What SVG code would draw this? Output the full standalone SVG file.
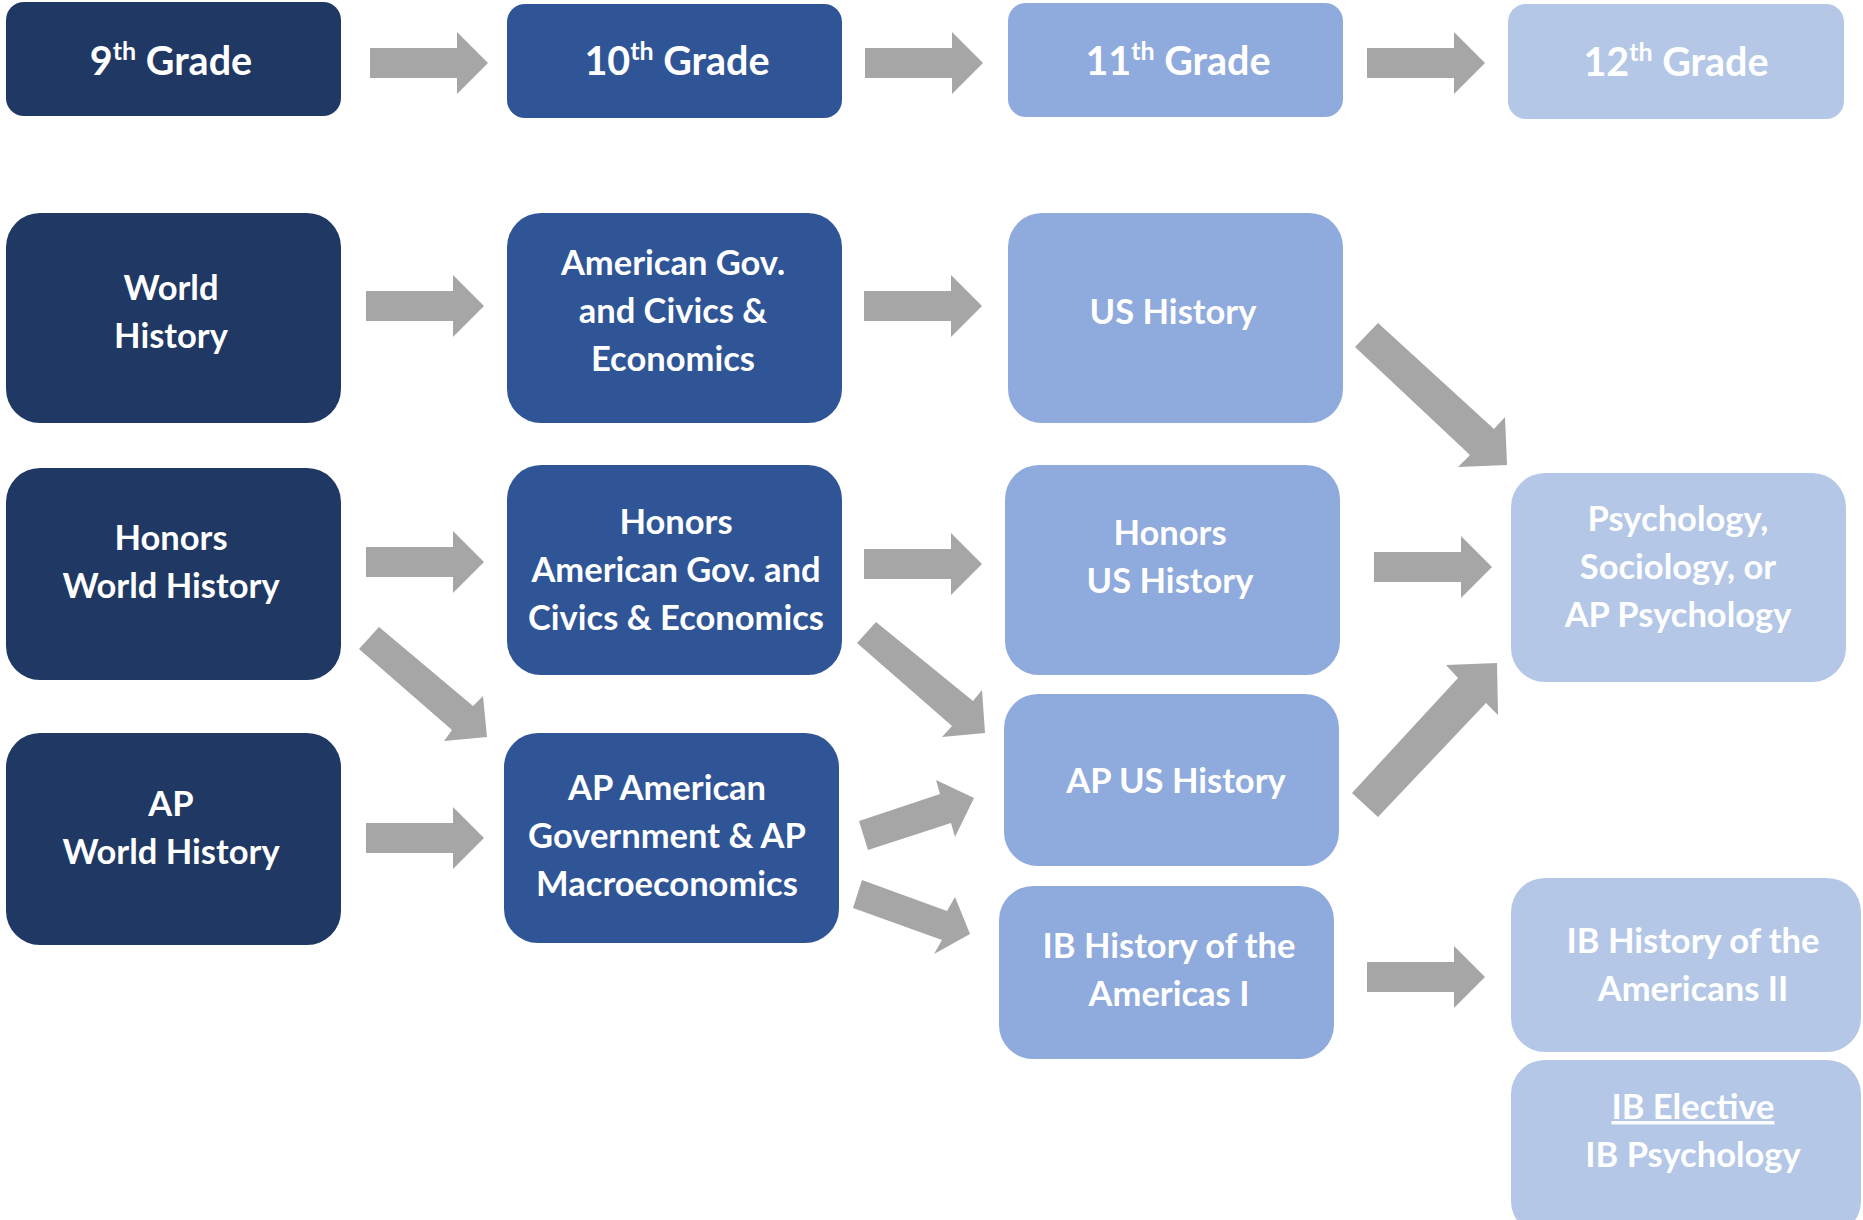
<svg xmlns="http://www.w3.org/2000/svg" xmlns:xlink="http://www.w3.org/1999/xlink" width="1863" height="1220" viewBox="0 0 1863 1220">
<style>
.c1{fill:#203864}.c2{fill:#2F5597}.c3{fill:#8FAADC}.c4{fill:#B4C7E7}
.t{font-family:Lato,"Liberation Sans",sans-serif;font-weight:700;font-size:34.5px;fill:#fff;text-anchor:middle}
.h{font-size:39.5px}
.arr{fill:#A6A6A6}
</style>
<defs>
<polygon id="harrow" points="0,-15 87,-15 87,-31 118,0 87,31 87,15 0,15"/>
</defs>
<rect width="1863" height="1220" fill="#fff"/>

<g id="connectors" class="arr">
<use xlink:href="#harrow" x="370" y="63"/>
<use xlink:href="#harrow" x="865" y="63"/>
<use xlink:href="#harrow" x="1367" y="63"/>
<use xlink:href="#harrow" x="366" y="306"/>
<use xlink:href="#harrow" x="864" y="306"/>
<use xlink:href="#harrow" x="366" y="562"/>
<use xlink:href="#harrow" x="864" y="564"/>
<use xlink:href="#harrow" x="1374" y="567"/>
<use xlink:href="#harrow" x="366" y="838"/>
<use xlink:href="#harrow" x="1367" y="977"/>
<polygon points="359,649 379,627 473,706 483,696 487,737 444,741 452,730"/>
<polygon points="857,643 876,622 973,701 982,690 985,733 942,737 952,726"/>
<polygon points="868,850 859,821 940,794 936,780 974,798 955,837 951,823"/>
<polygon points="862,880 853,908 942,940 934,954 970,934 955,897 947,911"/>
<polygon points="1355,347 1378,323 1494,429 1505,417 1507,465 1458,467 1470,455"/>
<polygon points="1378,817 1352,793 1458,678 1446,665 1497,663 1498,715 1486,703"/>
</g>

<g id="g9">
<rect class="c1" x="6" y="2" width="335" height="114" rx="18"/>
<text class="t h" x="171" y="75">9<tspan font-size="25" dy="-15">th</tspan><tspan dy="15"> Grade</tspan></text>
</g>
<g id="g10">
<rect class="c2" x="507" y="4" width="335" height="114" rx="18"/>
<text class="t h" x="677" y="75">10<tspan font-size="25" dy="-15">th</tspan><tspan dy="15"> Grade</tspan></text>
</g>
<g id="g11">
<rect class="c3" x="1008" y="3" width="335" height="114" rx="18"/>
<text class="t h" x="1178" y="75">11<tspan font-size="25" dy="-15">th</tspan><tspan dy="15"> Grade</tspan></text>
</g>
<g id="g12">
<rect class="c4" x="1508" y="4" width="336" height="115" rx="18"/>
<text class="t h" x="1676" y="76">12<tspan font-size="25" dy="-15">th</tspan><tspan dy="15"> Grade</tspan></text>
</g>

<g id="world-history">
<rect class="c1" x="6" y="213" width="335" height="210" rx="34"/>
<text class="t" x="171" y="300">World</text>
<text class="t" x="171" y="348">History</text>
</g>
<g id="am-gov">
<rect class="c2" x="507" y="213" width="335" height="210" rx="34"/>
<text class="t" x="673" y="275">American Gov.</text>
<text class="t" x="673" y="323">and Civics &amp;</text>
<text class="t" x="673" y="371">Economics</text>
</g>
<g id="us-history">
<rect class="c3" x="1008" y="213" width="335" height="210" rx="34"/>
<text class="t" x="1173" y="324">US History</text>
</g>

<g id="honors-world-history">
<rect class="c1" x="6" y="468" width="335" height="212" rx="34"/>
<text class="t" x="171" y="550">Honors</text>
<text class="t" x="171" y="598">World History</text>
</g>
<g id="honors-am-gov">
<rect class="c2" x="507" y="465" width="335" height="210" rx="34"/>
<text class="t" x="676" y="534">Honors</text>
<text class="t" x="676" y="582">American Gov. and</text>
<text class="t" x="676" y="630">Civics &amp; Economics</text>
</g>
<g id="honors-us-history">
<rect class="c3" x="1005" y="465" width="335" height="210" rx="34"/>
<text class="t" x="1170" y="545">Honors</text>
<text class="t" x="1170" y="593">US History</text>
</g>
<g id="psychology">
<rect class="c4" x="1511" y="473" width="335" height="209" rx="34"/>
<text class="t" x="1678" y="531">Psychology,</text>
<text class="t" x="1678" y="579">Sociology, or</text>
<text class="t" x="1678" y="627">AP Psychology</text>
</g>

<g id="ap-world-history">
<rect class="c1" x="6" y="733" width="335" height="212" rx="34"/>
<text class="t" x="171" y="816">AP</text>
<text class="t" x="171" y="864">World History</text>
</g>
<g id="ap-am-gov">
<rect class="c2" x="504" y="733" width="335" height="210" rx="34"/>
<text class="t" x="667" y="800">AP American</text>
<text class="t" x="667" y="848">Government &amp; AP</text>
<text class="t" x="667" y="896">Macroeconomics</text>
</g>
<g id="ap-us-history">
<rect class="c3" x="1004" y="694" width="335" height="172" rx="34"/>
<text class="t" x="1176" y="793">AP US History</text>
</g>
<g id="ib-history-1">
<rect class="c3" x="999" y="886" width="335" height="173" rx="34"/>
<text class="t" x="1169" y="958">IB History of the</text>
<text class="t" x="1169" y="1006">Americas I</text>
</g>
<g id="ib-history-2">
<rect class="c4" x="1511" y="878" width="350" height="174" rx="34"/>
<text class="t" x="1693" y="953">IB History of the</text>
<text class="t" x="1693" y="1001">Americans II</text>
</g>
<g id="ib-elective">
<rect class="c4" x="1511" y="1060" width="350" height="175" rx="34"/>
<text class="t" x="1693" y="1119" text-decoration="underline">IB Elective</text>
<text class="t" x="1693" y="1167">IB Psychology</text>
</g>
</svg>
